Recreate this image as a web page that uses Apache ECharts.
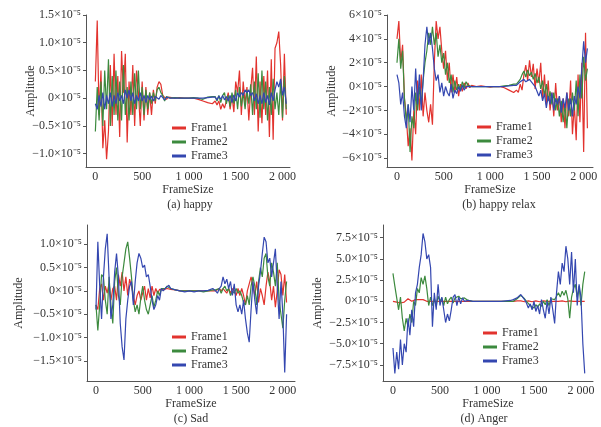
<!DOCTYPE html>
<html><head><meta charset="utf-8">
<script src="https://cdn.jsdelivr.net/npm/echarts@6/dist/echarts.min.js"></script>
<style>html,body{margin:0;padding:0;background:#fff}#c{width:601px;height:427px}</style>
</head><body><div id="c"></div>
<script>
// Frame sample positions (FrameSize)
const X = [0,20,40,60,80,100,120,140,160,180,200,220,240,260,280,300,320,340,360,380,400,420,440,460,480,500,520,540,560,580,600,620,640,660,680,700,720,740,760,780,
800,850,900,950,1000,1050,1100,1150,1200,1250,
1280,1300,1320,1340,1360,1380,1400,1420,1440,1460,1480,1500,1520,1540,1560,1580,1600,1620,1640,1660,1680,1700,1720,1740,1760,1780,1800,1820,1840,1860,1880,1900,1920,1940,1960,1980,2000,2020,2040];

const SERIES_NAMES = ['Frame1','Frame2','Frame3'];
const X_TICKS = [0,500,1000,1500,2000];

// (a) happy, amplitude in units of 1e-5
const A_F1 = [0.3,1.4,-0.3,0.5,-0.9,-0.4,-1.1,-0.6,0.6,-0.5, 0.8,-0.3,0.4,-0.7,0.85,0.1,0.8,-0.8,0.3,-0.3, 0.6,-0.5,0.5,0.1,-0.5,0.3,-0.4,0.2,-0.3,0.1, -0.3,0.15,-0.1,0.2,0.3,0.25,0.05,0.05,-0.02,0.02,
0.01,0,0.01,0,0,0,-0.02,-0.05,-0.08,-0.1,
-0.05,-0.12,-0.05,-0.2,-0.1,-0.18,-0.05,0.1,-0.2,0.05, -0.25,0.3,0.1,0.5,-0.3,0.3,-0.1,0.2,-0.4,0.15, 0.55,-0.3,0.75,-0.6,0.3,-0.45,0.4,-0.3,0.5,-0.7, 0.7,-0.75,0.9,1.0,1.2,0.6,-0.4,0.8,-0.3];
const A_F2 = [-0.6,0.2,-0.4,0.3,-0.5,0.5,-0.2,0.7,-0.5,0.4, -0.3,0.5,-0.4,0.3,-0.4,0.6,-0.3,0.2,-0.4,0.3, -0.3,0.45,-0.2,0.5,-0.2,0.2,-0.3,0.15,-0.2,0.1, -0.1,0.1,-0.05,0.15,0.2,0.1,0.05,-0.05,0.03,0,
0,0.01,0,0,0,0.01,0,-0.02,0.02,0.03,
0.03,-0.05,0.05,-0.08,0.05,0.1,-0.1,0.05,-0.15,0.1, -0.1,0.15,-0.2,0.2,-0.15,0.1,-0.2,0.15,-0.1,0.25, -0.3,0.3,-0.2,0.45,-0.35,0.5,-0.2,0.3,-0.4,0.2, -0.3,0.35,-0.2,0.1,-0.3,0.3,-0.35,0.4,-0.2];
const A_F3 = [-0.1,-0.2,0.05,-0.15,0.1,-0.2,0.05,-0.1,0.1,-0.15, 0.05,-0.1,0.1,-0.05,0.05,-0.1,0.15,0,0.15,-0.05, 0.1,-0.1,0.05,-0.05,0.1,-0.05,0.05,-0.08,0.05,-0.03, 0.04,-0.05,0.03,0.06,-0.02,0.05,0.02,-0.03,0.02,0,
0,0,0,0,0,0,0,0,0.01,0.02,
0.02,-0.03,0.04,-0.02,0.05,-0.03,0.03,-0.05,0.05,-0.08, 0.06,-0.05,0.1,0.02,0.1,0.05,0.15,0.1,0.15,0.05, 0.1,-0.05,0.08,-0.1,0.05,-0.1,0.1,-0.08,0.05,-0.12, 0.1,-0.05,0.15,0.3,0.2,0.35,0.05,0.2,-0.1];
const A_TICKS = [-1.0,-0.5,0,0.5,1.0,1.5];

// (b) happy relax
const B_F1 = [4,5.5,2,3.5,-1,-2.5,-5,-3.5,-6.2,-2, -4,0.5,-2,1,-2.5,-0.5,-2,-3,-1.5,-3.2, 2,5.5,4,5,3,1.5,3,0.5,2,-0.5, 1,-0.5,0.8,-0.8,0.2,-0.4,0.3,-0.2,0.3,-0.1,
0.1,0,0.05,0,-0.05,0,0,-0.1,-0.3,-0.5,
-0.3,-0.5,0.2,-0.3,1,1.8,0.5,2.2,0.8,1.9, -0.2,1.5,0.3,2,-1,1,-1.5,0.5,-2,-0.5, -2.5,0.3,-2,-0.8,-3,-1,-3.5,-0.5,-2.5,0.5, -4,-1.5,-4.5,1,-3,2,-5.5,4.5,-3.5];
const B_F2 = [2,4,1.5,3,-1,-3,-1.5,-5.5,-2.5,-3.5, -0.5,-2,0,-1.5,0.5,2,3,4.5,3.5,5, 3.5,4.5,2.5,3.5,2,2.8,1,2,0.3,1, -0.5,0.5,-0.3,0.2,-0.3,0.4,-0.1,0.4,0.1,0,
0,0,0,0,0,0,0,0.05,0.1,0.2,
0.2,0.3,0.6,1,1.3,0.8,1.4,0.9,1.2,0.6, 1.1,0.3,0.8,-0.2,0.5,-0.8,0.2,-1.2,-0.4,-1.5, -0.5,-2,-1,-2.5,-1.2,-3,-1.5,-3.5,-1,-2.5, -0.5,-2,0.5,-2.5,1,-1,2.5,0.5,1.5];
const B_F3 = [1,0.3,-1.5,-0.5,-2.5,-3.5,-1.5,-3,0,-2, 1.5,-1.5,1,-2,0.5,3.5,5,3.5,4.5,3.2, 1.5,0.5,1,-0.5,0.3,-0.8,0,-0.5,-0.8,0.2, -1,-0.3,-0.6,0,-0.4,0.1,-0.3,0,-0.1,0,
0,0,0,0,0,0,0,0,0.05,0.1,
0.1,0.2,0.4,0.5,0.6,0.4,0.5,0.6,0.4,0.3, 0,-0.4,-0.8,-0.3,-1.2,-0.6,-1.8,-0.8,-1.5,-0.5, -2,-1,-1.5,-0.8,-2.2,-1,-1.8,-0.5,-2,-1, -2.5,-0.8,-1.5,0,-1,1.5,3.8,2,3.2];
const B_TICKS = [-6,-4,-2,0,2,4,6];

// (c) Sad
const C_F1 = [-0.3,-0.4,0.05,0.15,-0.2,0.1,-0.05,0.15,-0.2,0.05, 0.1,-0.2,0.35,0.1,0.4,0,0.3,-0.1,0.25,0.1, -0.1,-0.3,-0.1,0,-0.2,-0.05,0.1,-0.2,0.05,-0.15, 0.1,-0.1,0.05,-0.05,0.03,0,0.02,0.05,0.05,0.05,
0.03,0.02,0,0,0,0,0,0,0,0,
0,0.02,0.05,0,0.05,0.02,-0.05,0.05,-0.05,0.05, 0,-0.1,0.05,-0.1,0.05,-0.1,-0.3,0,0.15,0.3, 0.1,-0.1,0.2,-0.25,0.05,-0.1,-0.3,0.1,0.4,0.2, -0.2,0.1,-0.35,0,0.45,0.35,-0.1,0.35,-0.25];
const C_F2 = [-0.3,-0.85,-0.3,0.35,0.3,-0.2,-0.5,0.3,-0.3,-0.7, 0.2,0.5,-0.1,-0.3,0.3,0.6,0.9,1.05,0.7,0.3, -0.2,-0.45,-0.3,-0.5,-0.15,0.1,-0.2,-0.4,-0.5,-0.3, -0.1,-0.35,-0.2,0,-0.1,0.05,0.02,0.05,0.1,0.08,
0.05,0.02,0,0,0,0,0,-0.02,0,0.02,
0.02,0,0.05,-0.05,0.05,0.1,0,0.05,-0.1,0, -0.05,0.05,-0.05,0,-0.1,-0.25,-0.3,-0.1,-0.3,0.1, 0.3,0.1,-0.3,0.2,0.5,0.3,0.7,0.8,0.3,0.1, 0.6,0.4,0.1,0.6,-0.2,-0.5,-0.8,-0.2,0.2];
const C_F3 = [-0.4,1.05,0.1,-0.6,0.3,0.9,1.22,0.3,-0.6,-0.3, 0.4,0.8,0.3,-0.7,-1.2,-1.48,-0.6,-0.2,0.1,0.2, -0.3,0.2,0.6,0.8,0.7,0.5,0.55,0.3,0.35,0.1, -0.2,-0.4,-0.3,-0.1,-0.2,0.05,0,0.05,0.07,0.12,
0.05,0.02,0,-0.02,0,-0.02,0,0,0.01,0.05,
0,-0.05,0.05,0.1,0.3,0.15,0.25,0.05,0.2,-0.1, 0.15,-0.3,-0.45,-0.3,-0.5,-0.2,-0.6,-0.9,-1.1,-0.4, 0.2,-0.2,-0.5,0.1,0.4,0.8,1.15,1.05,0.6,0.7, 0.3,0.6,0.9,0.1,-0.6,0.2,-0.5,-1.75,-0.5];
const C_TICKS = [-1.5,-1.0,-0.5,0,0.5,1.0];

// (d) Anger
const D_F1 = [0,0.1,-0.1,0,-0.2,-0.3,-0.1,0.1,0.3,0.2, 0,-0.1,0.2,0.1,0.2,0,0.2,0.1,0,-0.1, 0,0.1,0,-0.1,0,0.1,0,0.05,0,-0.05, 0,0.05,0,0,0,0,0,0,0,0,
0,0,0,0,0,0,0,0,0,0,
0,0,0.05,0,0.05,0,-0.05,0,0.05,0, -0.05,0,0.05,0,-0.05,0,0.05,0,0,0.05, 0,-0.05,0,0.05,0,0,0.05,0,-0.05,0, 0.05,0,0,0.05,0,-0.05,0,0.05,0];
const D_F2 = [3.3,1.8,2,-1,0.5,-2,-3.5,-2,-3,-1.5, -2.5,0,-0.5,1.5,1,2.8,2,3,1.5,-0.5, 0.5,-0.5,0.3,-0.6,0.6,0,0.4,-0.5,0.5,-0.3, 0.2,0.5,-0.2,0.4,0.2,0.6,0.3,0.5,0.4,0.2,
0.1,0,0,0,0,0,0,0,0,0,
0,0.1,0.3,0.5,0.7,0.5,0.3,0,-0.2,-0.5, -0.3,-0.8,-0.4,-0.7,-0.3,-0.6,0,-0.4,0.2,-0.5, 0.3,0.5,0.2,0.6,1,0.5,1.2,0.7,1.3,0.3, -2,0.5,1.5,2,0.5,1.8,-0.5,2,3.5];
const D_F3 = [-5.5,-8.5,-6,-8,-4.5,-7.5,-5,-6,-2,-4, -1,-3,1,2,4,5.5,8,7,5,5.5, 4,-3,1,-1,2,-0.5,0.5,-1,-2.5,-1.5, -2.3,-1,0.5,0.8,-0.5,0.5,-0.3,0.4,0,0.2,
0.1,0,0,0,0,0,0,0,0.05,0.1,
0.2,0.3,0.4,0.6,0.8,0.6,0.2,-0.2,-0.8,-0.3, -1,0,-1.2,-0.5,-1.5,0.2,-1,-2,0,-1.5, 0.5,-1,-2.6,1,3.5,2,4.5,3.5,6.5,5, 2,5.8,1,5,-0.5,2,0.5,-5,-8.5];
const D_TICKS = [-7.5,-5,-2.5,0,2.5,5,7.5];

const CAPTIONS = ['(a) happy','(b) happy relax','(c) Sad','(d) Anger'];

const FONT = "'Liberation Serif','Times New Roman',serif";
const COLORS = ['#e2332e','#3c8a3e','#3447b0'];

const panels = [
  {data:[A_F1,A_F2,A_F3], ticks:A_TICKS, dec:1, grid:{left:86,top:15,width:204,height:152}, x:[-100,2080], y:[-1.24,1.5], gap:49, leg:[172,121], cap:[190,199]},
  {data:[B_F1,B_F2,B_F3], ticks:B_TICKS, dec:0, grid:{left:387,top:15,width:206,height:152}, x:[-107,2100], y:[-6.75,6], gap:49, leg:[477,120], cap:[499,199]},
  {data:[C_F1,C_F2,C_F3], ticks:C_TICKS, dec:1, grid:{left:87,top:225,width:208,height:156}, x:[-96,2130], y:[-1.93,1.41], gap:62, leg:[172,330], cap:[191,413]},
  {data:[D_F1,D_F2,D_F3], ticks:D_TICKS, dec:1, grid:{left:383,top:225,width:210,height:156}, x:[-106,2128], y:[-9.4,9.0], gap:59, leg:[483,326], cap:[484,413]}
];

function fmtY(dec){
  return v => {
    const s = Math.abs(v) < 1e-9 ? '0' : Math.abs(v).toFixed(dec);
    return (v < -1e-9 ? '\u2212' : '') + s + '\u00d710\u207b\u2075';
  };
}
function fmtX(v){
  return v >= 1000 ? Math.floor(v/1000) + ' ' + String(v%1000).padStart(3,'0') : String(v);
}
const txt = {fontFamily:FONT, fontSize:12, color:'#333'};

const option = {
  backgroundColor:'#fff',
  animation:false,
  grid: panels.map(p => Object.assign({outerBoundsMode:'none', containLabel:false}, p.grid)),
  xAxis: panels.map((p,i) => ({
    type:'value', gridIndex:i, min:p.x[0], max:p.x[1],
    name:'FrameSize', nameLocation:'middle', nameGap:17, nameTextStyle:txt, nameMoveOverlap:false,
    axisLine:{show:true, onZero:false, lineStyle:{color:'#555', width:1}},
    axisTick:{show:false},
    splitLine:{show:false},
    axisLabel:Object.assign({customValues:X_TICKS, formatter:fmtX, margin:4}, txt)
  })),
  yAxis: panels.map((p,i) => ({
    type:'value', gridIndex:i, min:p.y[0], max:p.y[1],
    name:'Amplitude', nameLocation:'middle', nameRotate:90, nameGap:p.gap, nameTextStyle:txt, nameMoveOverlap:false,
    axisLine:{show:true, onZero:false, lineStyle:{color:'#555', width:1}},
    axisTick:{show:true, customValues:p.ticks, length:3, lineStyle:{color:'#555'}},
    splitLine:{show:false},
    axisLabel:Object.assign({customValues:p.ticks, formatter:fmtY(p.dec), margin:5}, txt)
  })),
  legend: panels.map((p,i) => ({
    orient:'vertical', left:p.leg[0], top:p.leg[1], padding:0, itemGap:0,
    itemWidth:14, itemHeight:3, icon:'rect',
    data:SERIES_NAMES, selectedMode:false,
    textStyle:{fontFamily:FONT, fontSize:12, color:'#333', lineHeight:14}
  })),
  title: panels.map((p,i) => ({
    text:CAPTIONS[i], left:p.cap[0], top:p.cap[1], textAlign:'center', padding:0,
    textStyle:{fontFamily:FONT, fontSize:12, fontWeight:'normal', color:'#333'}
  })),
  series: []
};
panels.forEach((p,i) => {
  p.data.forEach((ys,k) => {
    option.series.push({
      type:'line', name:SERIES_NAMES[k], xAxisIndex:i, yAxisIndex:i,
      data:X.map((x,j) => [x, ys[j]]),
      showSymbol:false, symbol:'none',
      lineStyle:{color:COLORS[k], width:1.2},
      itemStyle:{color:COLORS[k]},
      z:2+k
    });
  });
});
const chart = echarts.init(document.getElementById('c'), null, {renderer:'canvas'});
chart.setOption(option);
</script>
</body></html>
